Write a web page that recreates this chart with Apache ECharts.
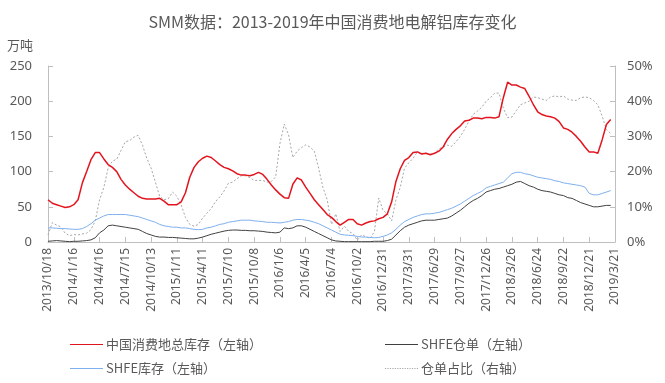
<!DOCTYPE html>
<html>
<head>
<meta charset="utf-8">
<script src="https://cdn.jsdelivr.net/npm/echarts@6/dist/echarts.min.js"></script>
<style>
html,body{margin:0;padding:0;background:#fff;}
#chart{width:665px;height:383px;}
</style>
</head>
<body>
<div id="chart"></div>
<script>
// Date categories: every 15 days from 2013/10/18 to 2019/3/21
const startDateUTC = Date.UTC(2013, 9, 18);
const stepDays = 15;
const pointCount = 133;
const categories = [];
for (let i = 0; i < pointCount; i++) {
  const d = new Date(startDateUTC + i * stepDays * 86400000);
  categories.push(d.getUTCFullYear() + '/' + (d.getUTCMonth() + 1) + '/' + d.getUTCDate());
}

// 中国消费地总库存 (万吨, left axis)
const totalStock = [60,55,53,51,49,50,53,60,84,100,
  117,127,127,118,110,106,100,89,81,75,
  70,65,62,61,61,61,62,58,53,53,
  53,57,70,92,106,114,119,122,120,115,
  110,106,104,101,97,95,95,94,96,99,
  96,89,81,74,68,63,62,82,91,88,
  78,69,60,53,46,39,35,29,24,28,
  32,32,26,24,27,29,30,33,35,40,
  57,86,104,116,120,127,128,125,126,124,
  126,129,135,146,154,160,165,172,173,176,
  176,175,177,177,176,178,205,227,223,223,
  220,218,207,195,185,181,179,178,176,171,
  162,160,156,150,143,135,128,128,126,145,
  167,174,null];

// SHFE仓单 (万吨, left axis)
const shfeWarrant = [1,1.5,2,1.5,1,0.5,1,1,1.5,2,
  3,6,13,17,23,24,23,22,21,20,
  19,18,15,12,10,8,7,7,6.5,6.5,
  6,5.5,5,4.5,4.5,5.5,7,9,11,12.5,
  14,15.5,16.5,17,17,16.5,16.5,16,16,15.5,
  15,14,13.5,13,14,20,19,20,23,23,
  21,18,15,12,9,6,3,1.5,1,0.5,
  0.5,0.5,0.5,0.5,0.5,0.5,1,1,1,2,
  4,10,16,21,24,26,28,30,31,31,
  31,32,33,34,37,41,45,50,55,59,
  62,66,71,73,75,76,78,80,82,85,
  86,83,80,78,75,73,72,71,69,67,
  66,63,62,59,56,54,52,50,50,51,
  52,52,null];

// SHFE库存 (万吨, left axis)
const shfeStock = [20,20,19.5,19,19,18.5,18,18,19,22,
  26,31,34,37,39,39,39,39,39,38,
  37,36,34,32,30,28,25,23,22,21,
  21,20,20,19,18,17.5,18,20,21,23,
  25,26,28,29,30,31,31,31,30,29.5,
  29,28,28,27.5,27,28,29,31,32,32,
  31,30,28,26,23,20,17,14,11,10,
  9.5,9,8,7,7,6.5,6,6.5,8,10,
  13,18,24,29,32,35,37,39,40,40,
  41,42,44,46,48,51,54,58,62,66,
  69,72,77,79,81,83,85,91,97,99,
  99,97,96,94,92,91,90,89,87,86,
  84,83,82,81,80,78,69,67,67,69,
  71,73,null];

// 仓单占比 (%, right axis)
const warrantRatio = [2,5.5,4.8,4.3,2.5,1.8,2.1,2,2.3,2.5,
  3.5,6,12,15.5,21,23,23.5,26,28.5,28.8,
  29.8,30.3,27.5,23.8,21,17,13,12,12.3,14.2,
  13,10.5,7,5,4.5,5,6.8,8.2,9.5,11.5,
  12.8,14.5,16.7,17,18,18.8,18.8,18.3,17.5,17.5,
  17.5,17,17.2,18.5,28,33.5,30.5,24,25.8,26.8,
  27.6,27,25.8,21,15.5,12,5,8,3,4.5,
  3,2.4,0.5,2,1.5,1,3,12.5,9,8,
  6,12,15.5,21,22.5,23.8,25.6,25.2,25.2,25,
  25.2,26.5,27,27.5,27.2,28.5,30,32,34.3,36.3,
  37.2,38.3,40,41,42.3,42.3,38,35.3,35.5,37.3,
  39,39.5,40,41.2,41,40.6,40.2,41.2,41.5,41.2,
  41.5,40.6,40.3,40.2,41,41.2,41,40.2,39,35.8,
  32,30.8,null];

const seriesNames = ['中国消费地总库存（左轴）', 'SHFE仓单（左轴）', 'SHFE库存（左轴）', '仓单占比（右轴）'];

const textColor = '#595959';
const axisColor = '#bfbfbf';
const cjk = '"Noto Sans CJK SC", "Noto Sans", sans-serif';
const latin = '"Noto Sans", "Noto Sans CJK SC", sans-serif';

// legend line icons
const solidIcon = 'path://M0,0h33v1.2h-33z';
let dotPath = 'path://';
for (let x = 0; x < 33; x += 2.5) dotPath += 'M' + x + ',0h1.2v1h-1.2z';

const chart = echarts.init(document.getElementById('chart'), null, {renderer: 'canvas'});

function legendAt(name, icon, left, top) {
  return {
    data: [{name: name, icon: icon}], left: left, top: top, padding: 0,
    itemWidth: 33, itemHeight: 14, itemGap: 0,
    textStyle: {color: textColor, fontSize: 13, fontFamily: cjk, padding: [0, 0, 0, -2]},
    selectedMode: false
  };
}

chart.setOption({
  animation: false,
  backgroundColor: '#ffffff',
  title: {
    text: 'SMM数据：2013-2019年中国消费地电解铝库存变化',
    left: 'center', top: 9,
    textStyle: {color: textColor, fontSize: 16, fontWeight: 'normal', fontFamily: cjk}
  },
  legend: [
    legendAt(seriesNames[0], solidIcon, 70, 338),
    legendAt(seriesNames[1], solidIcon, 385, 338),
    legendAt(seriesNames[2], solidIcon, 70, 362),
    legendAt(seriesNames[3], dotPath, 385, 362)
  ],
  grid: {left: 48, right: 50, top: 66, bottom: 141},
  xAxis: {
    type: 'category', boundaryGap: false, data: categories,
    axisLine: {lineStyle: {color: axisColor}},
    axisTick: {inside: true, interval: 5, length: 5, lineStyle: {color: axisColor}},
    axisLabel: {interval: 5, rotate: 90, color: textColor, fontSize: 12, margin: 6, fontFamily: latin},
    splitLine: {show: false}
  },
  yAxis: [
    {
      type: 'value', min: 0, max: 250, interval: 50, position: 'left',
      name: '万吨', nameLocation: 'end', nameGap: 21,
      nameTextStyle: {color: textColor, fontSize: 13, fontFamily: cjk, align: 'right', verticalAlign: 'middle', padding: [0, 15, 0, 0]},
      axisLine: {show: true, lineStyle: {color: axisColor}},
      axisTick: {show: true, inside: true, length: 5, lineStyle: {color: axisColor}},
      axisLabel: {color: textColor, fontSize: 13, margin: 16, fontFamily: latin},
      splitLine: {show: false}
    },
    {
      type: 'value', min: 0, max: 50, interval: 10, position: 'right',
      axisLine: {show: true, lineStyle: {color: axisColor}},
      axisTick: {show: true, inside: true, length: 5, lineStyle: {color: axisColor}},
      axisLabel: {color: textColor, fontSize: 13, margin: 12, fontFamily: latin, formatter: '{value}%'},
      splitLine: {show: false}
    }
  ],
  series: [
    {
      name: seriesNames[3], type: 'line', yAxisIndex: 1, data: warrantRatio,
      symbol: 'none', showSymbol: false, z: 1,
      lineStyle: {color: '#a6a6a6', width: 1, type: [2, 2]},
      itemStyle: {color: '#a6a6a6'}
    },
    {
      name: seriesNames[2], type: 'line', yAxisIndex: 0, data: shfeStock,
      symbol: 'none', showSymbol: false, z: 2,
      lineStyle: {color: '#7eb0ee', width: 1},
      itemStyle: {color: '#7eb0ee'}
    },
    {
      name: seriesNames[1], type: 'line', yAxisIndex: 0, data: shfeWarrant,
      symbol: 'none', showSymbol: false, z: 3,
      lineStyle: {color: '#404040', width: 1},
      itemStyle: {color: '#404040'}
    },
    {
      name: seriesNames[0], type: 'line', yAxisIndex: 0, data: totalStock,
      symbol: 'none', showSymbol: false, z: 4,
      lineStyle: {color: '#e3141e', width: 1.5},
      itemStyle: {color: '#e3141e'}
    }
  ]
});
</script>
</body>
</html>
